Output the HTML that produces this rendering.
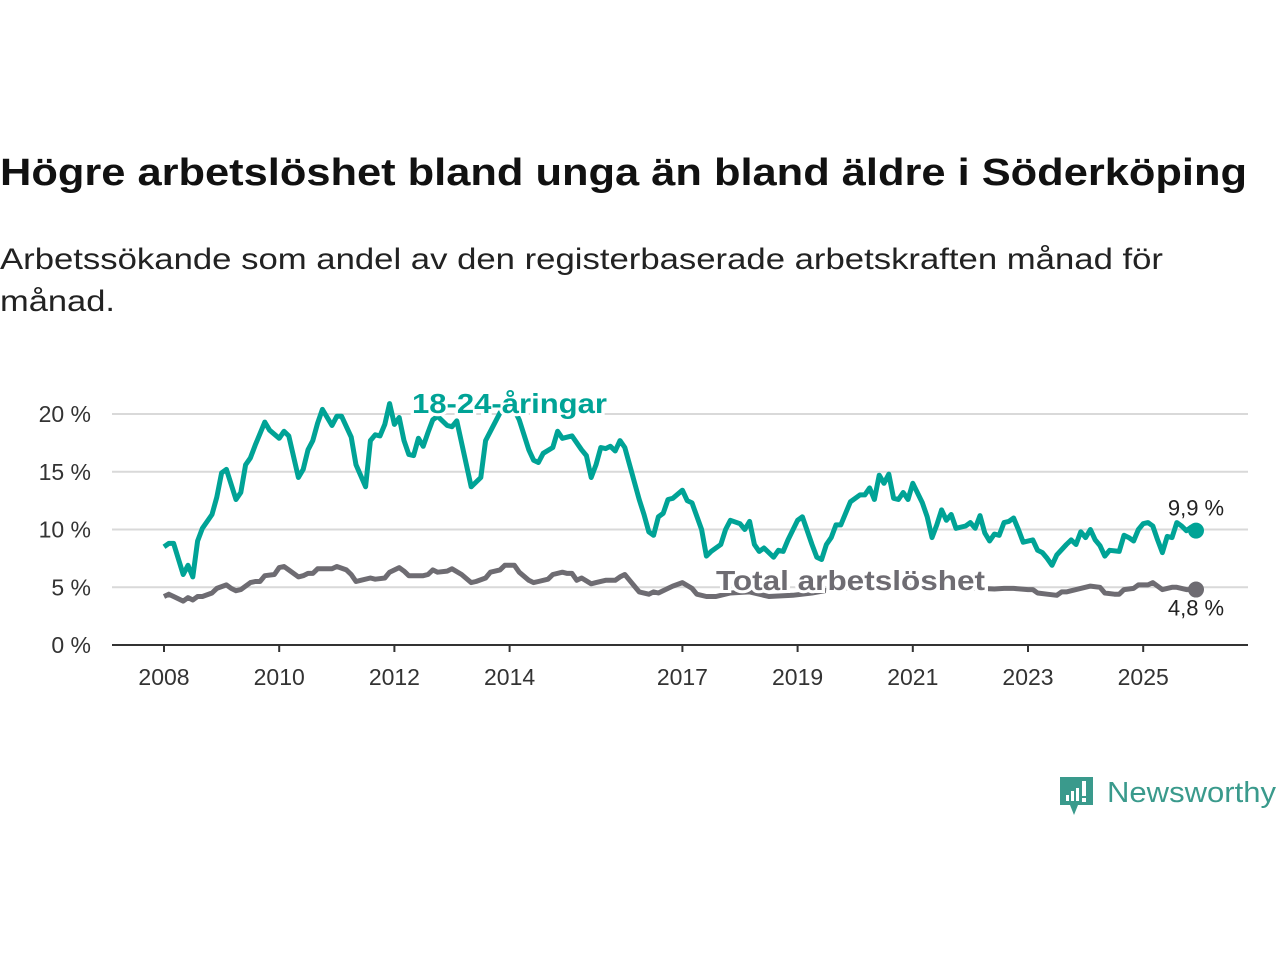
<!DOCTYPE html>
<html><head><meta charset="utf-8">
<style>
html,body{margin:0;padding:0;background:#fff;width:1280px;height:960px;overflow:hidden;}
svg{display:block;font-family:"Liberation Sans",sans-serif;}
</style></head>
<body>
<svg id="chart" width="1280" height="960" viewBox="0 0 1280 960">
  <text x="0" y="185" font-size="38" font-weight="bold" fill="#111" textLength="1247" lengthAdjust="spacingAndGlyphs">Högre arbetslöshet bland unga än bland äldre i Söderköping</text>
  <text x="0" y="269" font-size="30" fill="#222" textLength="1163" lengthAdjust="spacingAndGlyphs">Arbetssökande som andel av den registerbaserade arbetskraften månad för</text>
  <text x="0" y="311" font-size="30" fill="#222" textLength="115" lengthAdjust="spacingAndGlyphs">månad.</text>
  <g id="grid"></g>
  <g id="yaxis"></g>
  <g id="xaxis"></g>
  <g id="series"></g>
  <g>
    <path d="M1060 777 h33 v28 h-15 l-4 10 l-4 -10 h-10 z" fill="#3a9a8c"/>
    <rect x="1066" y="795" width="3" height="6" fill="#fff"/>
    <rect x="1071" y="791" width="3" height="10" fill="#fff"/>
    <rect x="1076" y="788" width="3" height="13" fill="#fff"/>
    <rect x="1082" y="781" width="4" height="15" fill="#fff"/>
    <rect x="1082" y="798" width="4" height="4" fill="#fff"/>
    <text x="1107" y="802" font-size="29" fill="#3a9a8c" textLength="169" lengthAdjust="spacingAndGlyphs">Newsworthy</text>
  </g>
</svg>
<script>
const yTicks = [0, 5, 10, 15, 20];
const yTickLabels = ["0 %", "5 %", "10 %", "15 %", "20 %"];
const xTickYears = [2008, 2010, 2012, 2014, 2017, 2019, 2021, 2023, 2025];
const youthMonths = [0,1,2,4,5,6,7,8,10,11,12,13,15,16,17,18,19,21,22,24,25,26,28,29,30,31,32,33,35,36,37,39,40,42,43,44,45,46,47,48,49,50,51,52,53,54,55,56,57,59,60,61,64,66,67,70,71,72,74,76,77,78,79,81,82,83,85,87,88,89,90,91,92,93,94,95,96,97,99,100,101,102,103,104,105,106,108,109,110,112,113,114,116,117,118,120,121,122,123,124,125,127,128,129,130,132,133,135,136,137,138,139,140,141,142,143,145,146,147,148,149,150,151,152,153,154,155,156,158,159,160,161,162,163,164,165,167,168,169,170,171,172,173,174,175,176,177,178,179,181,182,183,184,185,186,188,189,190,191,192,193,194,195,196,197,199,200,201,202,203,204,205,206,207,208,209,210,211,212,213,214,215];
const youthValues = [8.5,8.8,8.8,6.1,6.9,5.9,9.0,10.1,11.3,12.8,14.9,15.2,12.6,13.2,15.6,16.2,17.3,19.3,18.6,17.9,18.5,18.1,14.5,15.2,16.9,17.7,19.2,20.4,19.0,19.8,19.8,18.0,15.6,13.7,17.7,18.2,18.1,19.1,20.9,19.1,19.7,17.7,16.5,16.4,17.9,17.2,18.4,19.5,19.8,19.0,18.9,19.4,13.7,14.5,17.7,20.1,20.8,21.2,19.5,16.9,16.0,15.8,16.6,17.1,18.5,17.9,18.1,16.9,16.4,14.5,15.6,17.1,17.0,17.2,16.8,17.7,17.1,15.6,12.6,11.3,9.8,9.5,11.1,11.4,12.6,12.7,13.4,12.5,12.3,10.0,7.7,8.1,8.7,10.0,10.8,10.5,10.0,10.7,8.7,8.1,8.4,7.6,8.2,8.1,9.1,10.8,11.1,8.7,7.6,7.4,8.7,9.3,10.4,10.4,11.4,12.4,13.0,13.0,13.6,12.6,14.7,14.0,14.8,12.7,12.6,13.2,12.6,14.0,12.3,11.1,9.3,10.4,11.7,10.8,11.3,10.1,10.3,10.6,10.1,11.2,9.7,9.0,9.6,9.5,10.6,10.7,11.0,10.0,8.9,9.1,8.2,8.0,7.5,6.9,7.8,8.7,9.1,8.7,9.8,9.3,10.0,9.1,8.6,7.7,8.2,8.1,9.5,9.3,9.0,10.0,10.5,10.6,10.3,9.1,8.0,9.4,9.3,10.6,10.3,9.9,10.2,9.9];
const totalMonths = [0,1,2,4,5,6,7,8,10,11,13,14,15,16,18,19,20,21,23,24,25,26,28,29,30,31,32,34,35,36,38,39,40,41,43,44,46,47,49,50,51,54,55,56,57,59,60,62,64,65,67,68,69,70,71,73,74,76,77,78,80,81,83,84,85,86,87,89,90,92,94,95,96,97,98,99,101,102,103,105,106,108,110,111,113,115,118,122,126,131,135,139,143,147,151,155,160,165,170,173,175,177,180,181,182,184,186,187,188,190,193,195,196,198,199,200,202,203,205,206,208,210,211,213,215];
const totalValues = [4.2,4.4,4.2,3.8,4.1,3.9,4.2,4.2,4.5,4.9,5.2,4.9,4.7,4.8,5.4,5.5,5.5,6.0,6.1,6.7,6.8,6.5,5.9,6.0,6.2,6.2,6.6,6.6,6.6,6.8,6.5,6.1,5.5,5.6,5.8,5.7,5.8,6.3,6.7,6.4,6.0,6.0,6.1,6.5,6.3,6.4,6.6,6.1,5.4,5.5,5.8,6.3,6.4,6.5,6.9,6.9,6.3,5.6,5.4,5.5,5.7,6.1,6.3,6.2,6.2,5.6,5.8,5.3,5.4,5.6,5.6,5.9,6.1,5.6,5.1,4.6,4.4,4.6,4.5,4.9,5.1,5.4,4.9,4.4,4.2,4.2,4.5,4.6,4.2,4.3,4.5,4.8,5.0,5.2,5.0,5.1,5.0,5.0,4.9,4.85,4.9,4.9,4.8,4.8,4.5,4.4,4.3,4.6,4.6,4.8,5.1,5.0,4.5,4.4,4.4,4.8,4.9,5.2,5.2,5.4,4.8,5.0,5.0,4.8,4.8];

const NS = "http://www.w3.org/2000/svg";
const X0 = 112, X1 = 1248, Y0 = 645;
function xMonth(m){ return 164 + m * 4.8; }
function xYear(y){ return xMonth((y - 2008) * 12); }
function yVal(v){ return Y0 - v * 11.55; }
function mk(tag, attrs, parent){ const e = document.createElementNS(NS, tag); for (const k in attrs) e.setAttribute(k, attrs[k]); parent.appendChild(e); return e; }

const grid = document.getElementById('grid');
const yaxis = document.getElementById('yaxis');
const xaxis = document.getElementById('xaxis');
const series = document.getElementById('series');

yTicks.forEach((t, i) => {
  if (t > 0) {
    const g = mk('line', {x1: X0, x2: X1, y1: yVal(t), y2: yVal(t), stroke: '#d9d9d9', 'stroke-width': 2}, grid);
    
    
  }
  const tx = mk('text', {x: 91, y: yVal(t) + 8, 'font-size': 23, fill: '#333', 'text-anchor': 'end'}, yaxis);
  tx.textContent = yTickLabels[i];
  
  
});
const axl = mk('line', {x1: X0, x2: X1, y1: Y0, y2: Y0, stroke: '#333', 'stroke-width': 2}, xaxis);


xTickYears.forEach(yr => {
  const tk = mk('line', {x1: xYear(yr), x2: xYear(yr), y1: Y0, y2: Y0 + 7, stroke: '#333', 'stroke-width': 2}, xaxis);
  
  
  const tx = mk('text', {x: xYear(yr), y: 685, 'font-size': 23, fill: '#333', 'text-anchor': 'middle'}, xaxis);
  tx.textContent = String(yr);
  
  
});

function pathFor(ms, vs){ return ms.map((m, i) => (i ? 'L' : 'M') + xMonth(m).toFixed(1) + ' ' + yVal(vs[i]).toFixed(1)).join(' '); }

const tl = mk('path', {d: pathFor(totalMonths, totalValues), fill: 'none', stroke: '#6e6c72', 'stroke-width': 5, 'stroke-linejoin': 'round'}, series);


const yl = mk('path', {d: pathFor(youthMonths, youthValues), fill: 'none', stroke: '#00a396', 'stroke-width': 5, 'stroke-linejoin': 'round'}, series);



const lt = totalMonths.length - 1, ly = youthMonths.length - 1;
const d1 = mk('circle', {cx: xMonth(totalMonths[lt]), cy: yVal(totalValues[lt]), r: 8, fill: '#6e6c72'}, series);


const d2 = mk('circle', {cx: xMonth(youthMonths[ly]), cy: yVal(youthValues[ly]), r: 8, fill: '#00a396'}, series);



const e1 = mk('text', {x: xMonth(youthMonths[ly]), y: yVal(youthValues[ly]) - 15, 'font-size': 22, fill: '#222', 'text-anchor': 'middle'}, series);
e1.textContent = youthValues[ly].toFixed(1).replace('.', ',') + ' %';


const e2 = mk('text', {x: xMonth(totalMonths[lt]), y: yVal(totalValues[lt]) + 26, 'font-size': 22, fill: '#222', 'text-anchor': 'middle'}, series);
e2.textContent = totalValues[lt].toFixed(1).replace('.', ',') + ' %';



const l1 = mk('text', {x: 412, y: 413, 'font-size': 28, 'font-weight': 'bold', fill: '#00a396', stroke: '#fff', 'stroke-width': 6, 'paint-order': 'stroke', textLength: 195, lengthAdjust: 'spacingAndGlyphs'}, series);
l1.textContent = '18-24-åringar';


const l2 = mk('text', {x: 716, y: 590, 'font-size': 28, 'font-weight': 'bold', fill: '#6e6c72', stroke: '#fff', 'stroke-width': 6, 'paint-order': 'stroke', textLength: 269, lengthAdjust: 'spacingAndGlyphs'}, series);
l2.textContent = 'Total arbetslöshet';


</script>
</body></html>
